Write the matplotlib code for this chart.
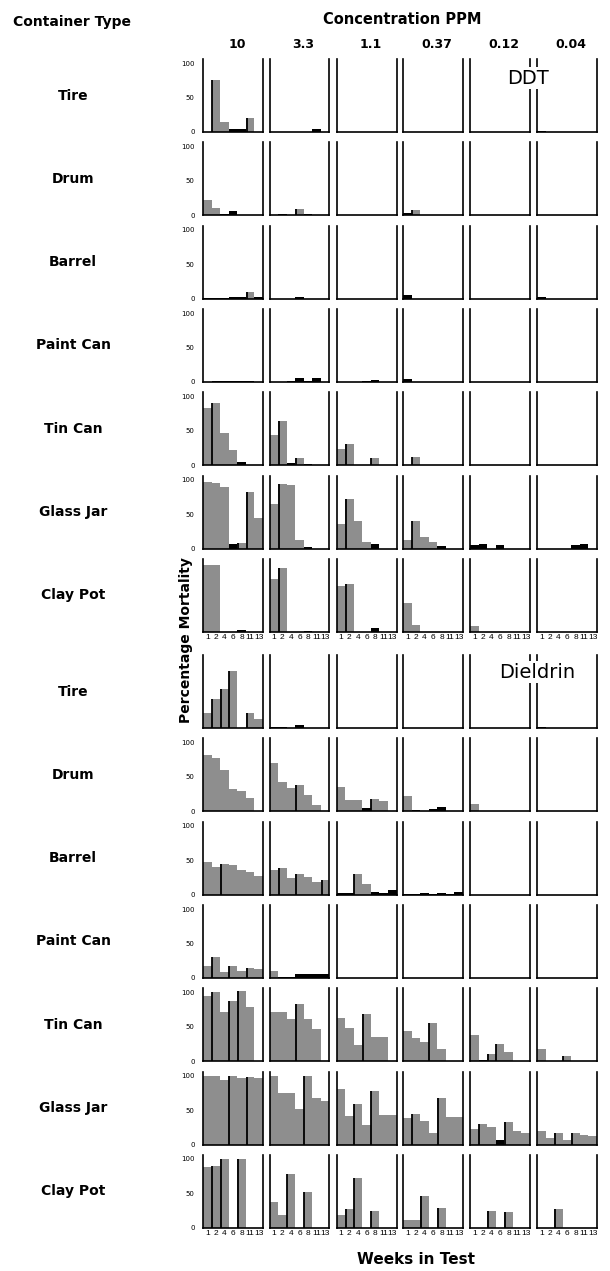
import numpy as np
import matplotlib
matplotlib.use('Agg')
import matplotlib.pyplot as plt

# weeks in test (bins) and column headings
weeks = ['1', '2', '4', '6', '8', '11', '13']
concentrations = ['10', '3.3', '1.1', '0.37', '0.12', '0.04']
containers = ['Tire', 'Drum', 'Barrel', 'Paint Can', 'Tin Can', 'Glass Jar', 'Clay Pot']

# percentage mortality, one list of 7 weeks per concentration (10 ... 0.04)
ddt_tire = [[0, 75, 15, 4, 5, 20, 0], [0, 0, 0, 0, 0, 5, 0], [0] * 7,
            [0] * 7, [0] * 7, [2, 0, 0, 0, 0, 0, 0]]
ddt_drum = [[22, 11, 2, 6, 0, 0, 0], [0, 2, 0, 9, 2, 0, 0], [0] * 7,
            [3, 8, 0, 0, 0, 0, 0], [0] * 7, [0] * 7]
ddt_barrel = [[1, 1, 1, 2, 2, 10, 3], [0, 0, 0, 2, 0, 0, 0], [0] * 7,
              [5, 0, 0, 0, 0, 0, 0], [0] * 7, [2, 0, 0, 0, 0, 0, 0]]
ddt_paint = [[0, 2, 2, 1, 2, 2, 0], [0, 0, 1, 5, 1, 6, 0], [0, 0, 0, 1, 3, 0, 0],
             [4, 0, 0, 0, 0, 0, 0], [0] * 7, [0] * 7]
ddt_tin = [[83, 91, 47, 22, 4, 0, 0], [44, 64, 3, 11, 2, 0, 0], [24, 31, 0, 0, 10, 0, 0],
           [0, 12, 0, 0, 0, 0, 0], [0] * 7, [0] * 7]
ddt_glass = [[97, 95, 90, 6, 8, 82, 45], [65, 94, 92, 12, 2, 0, 0], [35, 72, 40, 10, 6, 0, 0],
             [13, 40, 16, 10, 3, 0, 0], [5, 6, 0, 5, 0, 0, 0], [0, 0, 0, 0, 5, 6, 0]]
ddt_clay = [[97, 97, 0, 0, 3, 0, 0], [76, 92, 0, 0, 1, 0, 0], [67, 70, 0, 0, 5, 0, 0],
            [42, 10, 0, 0, 0, 0, 0], [8, 0, 0, 0, 0, 0, 0], [0] * 7]

dld_tire = [[22, 42, 57, 83, 0, 22, 13], [2, 1, 0, 5, 0, 0, 0], [0] * 7,
            [0] * 7, [0] * 7, [2, 0, 0, 0, 0, 0, 0]]
dld_drum = [[82, 78, 60, 33, 30, 20, 0], [70, 42, 34, 38, 24, 9, 0], [36, 17, 17, 5, 18, 15, 0],
            [22, 2, 1, 3, 6, 0, 0], [10, 0, 0, 0, 0, 0, 0], [0] * 7]
dld_barrel = [[47, 40, 44, 43, 36, 33, 27], [36, 38, 24, 30, 26, 18, 21], [2, 2, 30, 16, 4, 3, 6],
              [1, 1, 2, 1, 2, 1, 4], [0] * 7, [0] * 7]
dld_paint = [[17, 30, 8, 18, 10, 15, 13], [10, 1, 2, 5, 5, 5, 6], [0] * 7,
             [0] * 7, [0] * 7, [0] * 7]
dld_tin = [[95, 100, 72, 88, 102, 78, 0], [72, 72, 61, 83, 61, 47, 0], [63, 48, 23, 69, 35, 35, 0],
           [44, 34, 28, 56, 18, 0, 0], [38, 2, 10, 25, 13, 0, 0], [17, 1, 1, 7, 0, 0, 0]]
dld_glass = [[100, 100, 93, 100, 97, 98, 97], [100, 75, 75, 51, 100, 68, 63], [80, 41, 59, 28, 78, 43, 43],
             [38, 44, 34, 17, 67, 40, 40], [23, 30, 25, 6, 32, 20, 17], [20, 10, 17, 7, 17, 14, 13]]
dld_clay = [[88, 90, 100, 0, 100, 0, 0], [38, 19, 78, 0, 52, 0, 0], [19, 27, 72, 0, 24, 0, 0],
            [11, 11, 46, 0, 29, 0, 0], [0, 0, 25, 0, 23, 0, 0], [0, 0, 27, 0, 0, 0, 0]]

ddt_rows = [ddt_tire, ddt_drum, ddt_barrel, ddt_paint, ddt_tin, ddt_glass, ddt_clay]
dld_rows = [dld_tire, dld_drum, dld_barrel, dld_paint, dld_tin, dld_glass, dld_clay]

W, H = 610, 1271
GRAY = '#8e8e8e'
col_left = [203, 269.5, 336.5, 403, 470, 537]
pw, ph = 60, 73
pitch = 83.3


def draw_panel(ax, vals, ylabels, show_weeks):
    x = np.arange(len(vals))
    colors = ['black' if 0 < v <= 6 else GRAY for v in vals]
    ax.bar(x, vals, width=1.0, align='edge', color=colors, linewidth=0)
    prev = 0
    for i, v in enumerate(vals):
        if i > 0 and v > prev and v > 6:
            ax.vlines(i + 0.08, 0, v, color='black', lw=1.3)
        prev = v
    ax.set_xlim(0, 7)
    ax.set_ylim(0, 106)
    ax.spines['top'].set_visible(False)
    for s in ['left', 'right', 'bottom']:
        ax.spines[s].set_linewidth(1.2)
    ax.tick_params(length=0)
    if ylabels:
        ax.set_yticks([0, 50, 100])
        ax.set_yticklabels(['0', '50', '100'], fontsize=5)
        ax.tick_params(axis='y', pad=6)
    else:
        ax.set_yticks([])
    if show_weeks:
        ax.set_xticks(x + 0.5)
        ax.set_xticklabels(weeks, fontsize=6, family='Liberation Sans')
        ax.tick_params(axis='x', pad=1.5)
    else:
        ax.set_xticks([])


fig = plt.figure(figsize=(W / 100, H / 100), dpi=100)

for block, (rows, top0) in enumerate([(ddt_rows, 59), (dld_rows, 655)]):
    for r, row in enumerate(rows):
        top = top0 + pitch * r
        # the vertical axis title sits where these two rows' labels would be
        hide_y = (block == 0 and r == 6) or (block == 1 and r == 0)
        for c, vals in enumerate(row):
            ax = fig.add_axes([col_left[c] / W, 1 - (top + ph) / H, pw / W, ph / H])
            draw_panel(ax, vals, c == 0 and not hide_y, r == len(rows) - 1)
        fig.text(73 / W, 1 - (top + ph / 2) / H, containers[r], ha='center', va='center',
                 fontsize=10, fontweight='bold')

# headings
fig.text(72 / W, 1 - 22 / H, 'Container Type', ha='center', va='center', fontsize=10, fontweight='bold')
fig.text(402 / W, 1 - 20 / H, 'Concentration PPM', ha='center', va='center', fontsize=10.5, fontweight='bold')
for c, lab in enumerate(concentrations):
    fig.text((col_left[c] + pw / 2 + 4) / W, 1 - 45 / H, lab, ha='center', va='center',
             fontsize=9, fontweight='bold')

fig.text(528 / W, 1 - 78 / H, 'DDT', ha='center', va='center', fontsize=14,
         bbox=dict(facecolor='white', edgecolor='none', pad=1))
fig.text(537 / W, 1 - 672 / H, 'Dieldrin', ha='center', va='center', fontsize=14,
         bbox=dict(facecolor='white', edgecolor='none', pad=1))

fig.text(186 / W, 1 - 640 / H, 'Percentage Mortality', ha='center', va='center', rotation=90,
         fontsize=10, fontweight='bold')
fig.text(416 / W, 1 - 1260 / H, 'Weeks in Test', ha='center', va='center', fontsize=11, fontweight='bold')

fig.savefig('out.png', dpi=100)
